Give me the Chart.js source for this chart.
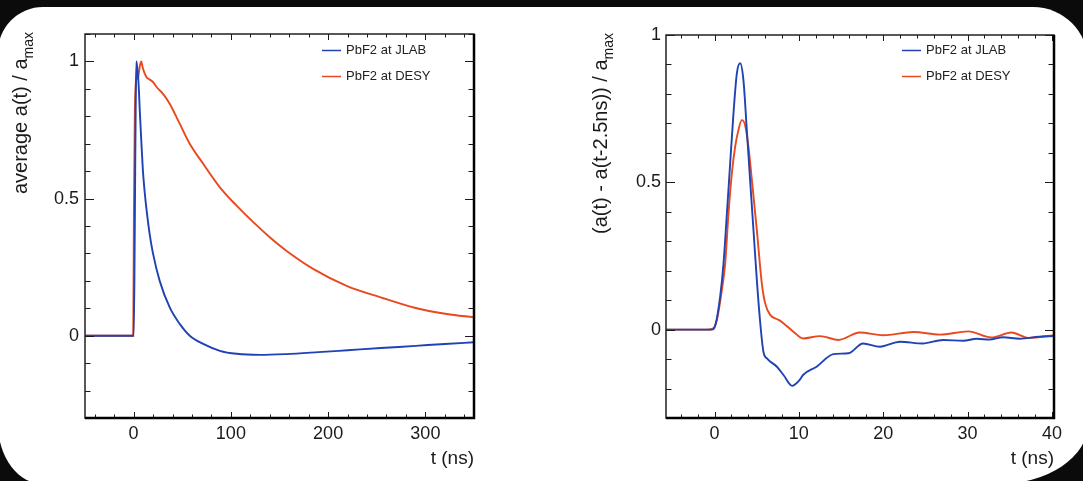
<!DOCTYPE html>
<html lang="en">
<head>
<meta charset="UTF-8">
<title>PbF2 pulse shapes</title>
<script src="https://cdn.jsdelivr.net/npm/chart.js@4"></script>
<style>
    html, body {
        margin: 0;
        padding: 0;
        background-color: #0b0b0b;
        overflow: hidden;
    }
    .card {
        position: absolute;
        left: -2px;
        top: 7px;
        width: 1090px;
        height: 477px;
        background: #fff;
        border-radius: 45px 55px 90px 45px / 45px 55px 60px 60px;
    }
    canvas {
        position: absolute;
        top: 0;
    }
</style>
</head>
<body>
<div class="card"></div>
<canvas id="pulse" width="540" height="481" style="left:0"></canvas>
<canvas id="diff" width="543" height="481" style="left:540px"></canvas>

<script>
    // legend labels and colours
    const legendLabels = ['PbF2 at JLAB', 'PbF2 at DESY'];
    const COLOR_JLAB = '#1f42b4';
    const COLOR_DESY = '#e8491f';

    // left panel: average a(t) / a_max
    const pulseT_jlab = [-50, -1, 0, 0.8, 1.6, 2.2, 2.8, 3.6, 4.5, 5.5, 6.2, 7.9, 9.4, 11.2, 13.1, 16.5, 19.9, 26.8, 37.1, 47.4, 57.7, 71.5, 88.7, 105.9, 130, 157, 190, 220, 254, 290, 320, 350];
    const pulseA_jlab = [0, 0, 0, 0.2, 0.6, 0.86, 1.0, 0.98, 0.95, 0.89, 0.83, 0.71, 0.61, 0.53, 0.465, 0.37, 0.30, 0.20, 0.103, 0.043, 0, -0.030, -0.055, -0.066, -0.070, -0.067, -0.060, -0.053, -0.045, -0.037, -0.030, -0.024];
    const pulseT_desy = [-50, -1, -0.4, 0.3, 1.2, 2.2, 3.2, 4.3, 5.4, 6.5, 7.8, 9.5, 13.1, 16, 19.9, 24, 30.2, 37.1, 47.4, 57.7, 71.5, 88.7, 105.9, 123, 140, 157, 185, 219, 254, 288, 322, 350];
    const pulseA_desy = [0, 0, 0, 0.45, 0.8, 0.92, 0.95, 0.935, 0.96, 0.985, 1.0, 0.975, 0.943, 0.935, 0.925, 0.905, 0.882, 0.846, 0.773, 0.70, 0.627, 0.541, 0.474, 0.414, 0.359, 0.31, 0.243, 0.182, 0.140, 0.103, 0.079, 0.067];
    const pulseXTicks = [0, 100, 200, 300];
    const pulseYTicks = [0, 0.5, 1];

    // right panel: (a(t) - a(t-2.5ns)) / a_max
    const diffT_jlab = [-5.75, -1, -0.3, 0.1, 0.67, 1.07, 1.47, 1.86, 2.25, 2.65, 3.04, 3.43, 3.83, 4.22, 4.62, 5.02, 5.4, 5.8, 6.3, 7.4, 8.2, 9.2, 10.1, 10.5, 12.1, 14.1, 15.9, 17.6, 19.6, 22, 24.7, 27.1, 29.5, 31.1, 32.6, 34.2, 36.2, 38.5, 40.25];
    const diffA_jlab = [0, 0, 0, 0.015, 0.112, 0.225, 0.395, 0.565, 0.734, 0.87, 0.904, 0.847, 0.678, 0.508, 0.338, 0.168, 0.03, -0.075, -0.1, -0.126, -0.155, -0.191, -0.171, -0.154, -0.126, -0.083, -0.08, -0.047, -0.058, -0.041, -0.047, -0.035, -0.038, -0.031, -0.034, -0.026, -0.031, -0.024, -0.022];
    const diffT_desy = [-5.75, -1, -0.3, 0.28, 0.87, 1.27, 1.66, 2.06, 2.45, 2.84, 3.24, 3.63, 4.02, 4.43, 5.02, 5.61, 6.0, 6.6, 7.6, 8.2, 9.35, 10.5, 12.5, 14.7, 17.2, 20, 23.6, 26.7, 30.1, 32.8, 35.2, 37.2, 40.25];
    const diffA_desy = [0, 0, 0.002, 0.033, 0.134, 0.225, 0.395, 0.531, 0.621, 0.678, 0.711, 0.694, 0.621, 0.508, 0.338, 0.157, 0.09, 0.05, 0.033, 0.021, -0.007, -0.03, -0.022, -0.035, -0.01, -0.019, -0.008, -0.017, -0.006, -0.027, -0.01, -0.028, -0.019];
    const diffXTicks = [0, 10, 20, 30, 40];
    const diffYTicks = [0, 0.5, 1];

    const FONT = 'Liberation Sans, Arial, Helvetica, sans-serif';
    const CANVAS_H = 481;
    const AREA_BOTTOM = 418;

    // ROOT style frame with inward ticks on all four sides
    const frameTicks = {
        id: 'frameTicks',
        afterDatasetsDraw(chart, args, opts) {
            const {ctx, chartArea: a, scales: {x, y}} = chart;
            ctx.save();
            ctx.strokeStyle = '#1a1a1a';
            ctx.lineWidth = 1;
            const isMajor = (v, list) => list.some(m => Math.abs(m - v) < 1e-6);
            const xMajors = x.ticks.map(t => t.value);
            const yMajors = y.ticks.map(t => t.value);
            ctx.beginPath();
            let k0 = Math.ceil(x.min / opts.xMinor - 1e-6);
            for (let k = k0; k * opts.xMinor <= x.max + 1e-6; k++) {
                const v = k * opts.xMinor;
                const px = Math.round(x.getPixelForValue(v)) + 0.5;
                const len = isMajor(v, xMajors) ? 6 : 3.5;
                ctx.moveTo(px, a.bottom); ctx.lineTo(px, a.bottom - len);
                ctx.moveTo(px, a.top); ctx.lineTo(px, a.top + len);
            }
            k0 = Math.ceil(y.min / opts.yMinor - 1e-6);
            for (let k = k0; k * opts.yMinor <= y.max + 1e-6; k++) {
                const v = k * opts.yMinor;
                const py = Math.round(y.getPixelForValue(v)) + 0.5;
                const len = isMajor(v, yMajors) ? 9 : 5.5;
                ctx.moveTo(a.left, py); ctx.lineTo(a.left + len, py);
                ctx.moveTo(a.right, py); ctx.lineTo(a.right - len, py);
            }
            ctx.stroke();
            ctx.strokeStyle = '#222';
            ctx.lineWidth = 1.5;
            ctx.strokeRect(a.left, a.top, a.right - a.left, a.bottom - a.top);
            ctx.strokeStyle = '#000';
            ctx.lineWidth = 2.5;
            ctx.beginPath();
            ctx.moveTo(a.left, a.bottom); ctx.lineTo(a.right, a.bottom); ctx.lineTo(a.right, a.top);
            ctx.stroke();
            ctx.restore();
        }
    };

    // legend, axis titles (with a_max subscript)
    const rootText = {
        id: 'rootText',
        afterDraw(chart, args, opts) {
            const {ctx, chartArea: a} = chart;
            ctx.save();
            ctx.fillStyle = '#1a1a1a';

            // legend in the top right corner of the frame
            ctx.font = '13px ' + FONT;
            ctx.textBaseline = 'middle';
            chart.data.datasets.forEach((ds, i) => {
                const ly = 50.5 + i * 26;
                ctx.strokeStyle = ds.borderColor;
                ctx.lineWidth = 1.5;
                ctx.beginPath();
                ctx.moveTo(a.right - 152, ly);
                ctx.lineTo(a.right - 133, ly);
                ctx.stroke();
                ctx.fillStyle = '#222';
                ctx.fillText(ds.label, a.right - 128, ly);
            });

            // x title
            ctx.fillStyle = '#1a1a1a';
            ctx.font = '19px ' + FONT;
            ctx.textAlign = 'right';
            ctx.textBaseline = 'alphabetic';
            ctx.fillText(opts.xTitle, a.right, 463.5);

            // y title, rotated, ending at the frame top
            ctx.translate(opts.yTitleX, opts.yTitleTop);
            ctx.rotate(-Math.PI / 2);
            ctx.textAlign = 'left';
            ctx.font = '20px ' + FONT;
            const w1 = ctx.measureText(opts.yTitle).width;
            ctx.font = '14px ' + FONT;
            const w2 = ctx.measureText(opts.yTitleSub).width;
            ctx.font = '20px ' + FONT;
            ctx.fillText(opts.yTitle, -(w1 + w2), 0);
            ctx.font = '14px ' + FONT;
            ctx.fillText(opts.yTitleSub, -w2, 6);
            ctx.restore();
        }
    };

    const pointsOf = (ts, vs) => ts.map((t, i) => ({x: t, y: vs[i]}));

    function buildChart(id, o) {
        const tickFont = {family: FONT, size: 18};
        return new Chart(document.getElementById(id), {
            type: 'line',
            data: {
                datasets: [
                    {label: legendLabels[0], data: pointsOf(o.jlabT, o.jlabV), borderColor: COLOR_JLAB},
                    {label: legendLabels[1], data: pointsOf(o.desyT, o.desyV), borderColor: COLOR_DESY}
                ]
            },
            options: {
                responsive: false,
                animation: false,
                devicePixelRatio: 1,
                layout: {padding: {left: 0, top: o.top, right: o.right, bottom: 0}},
                elements: {
                    point: {radius: 0},
                    line: {borderWidth: 1.9, cubicInterpolationMode: 'monotone', fill: false}
                },
                scales: {
                    x: {
                        type: 'linear',
                        min: o.xMin,
                        max: o.xMax,
                        afterBuildTicks: s => { s.ticks = o.xTicks.map(v => ({value: v})); },
                        afterFit: s => { s.height = CANVAS_H - AREA_BOTTOM; },
                        grid: {display: false, drawTicks: false},
                        border: {display: false},
                        ticks: {font: tickFont, color: '#1a1a1a', padding: 5, maxRotation: 0, autoSkip: false, callback: v => String(v)}
                    },
                    y: {
                        type: 'linear',
                        min: o.yMin,
                        max: o.yMax,
                        afterBuildTicks: s => { s.ticks = o.yTicks.map(v => ({value: v})); },
                        afterFit: s => { s.width = o.left; },
                        grid: {display: false, drawTicks: false},
                        border: {display: false},
                        ticks: {font: tickFont, color: '#1a1a1a', padding: o.yPad, autoSkip: false, callback: v => String(v)}
                    }
                },
                plugins: {
                    legend: {display: false},
                    tooltip: {enabled: false},
                    frameTicks: {xMinor: o.xMinor, yMinor: 0.1},
                    rootText: {xTitle: 't (ns)', yTitle: o.yTitle, yTitleSub: 'max', yTitleX: o.yTitleX, yTitleTop: o.yTitleTop}
                }
            },
            plugins: [frameTicks, rootText]
        });
    }

    buildChart('pulse', {
        jlabT: pulseT_jlab, jlabV: pulseA_jlab, desyT: pulseT_desy, desyV: pulseA_desy,
        xMin: -50, xMax: 350, yMin: -0.3, yMax: 1.1,
        xTicks: pulseXTicks, yTicks: pulseYTicks, xMinor: 20,
        left: 85, top: 34, right: 540 - 474, yPad: 6,
        yTitle: 'average a(t) / a', yTitleX: 27, yTitleTop: 32
    });

    buildChart('diff', {
        jlabT: diffT_jlab, jlabV: diffA_jlab, desyT: diffT_desy, desyV: diffA_desy,
        xMin: -5.75, xMax: 40.25, yMin: -0.3, yMax: 1.0,
        xTicks: diffXTicks, yTicks: diffYTicks, xMinor: 2,
        left: 126, top: 35, right: 543 - 514, yPad: 5,
        yTitle: '(a(t) - a(t-2.5ns)) / a', yTitleX: 67, yTitleTop: 33
    });
</script>
</body>
</html>
